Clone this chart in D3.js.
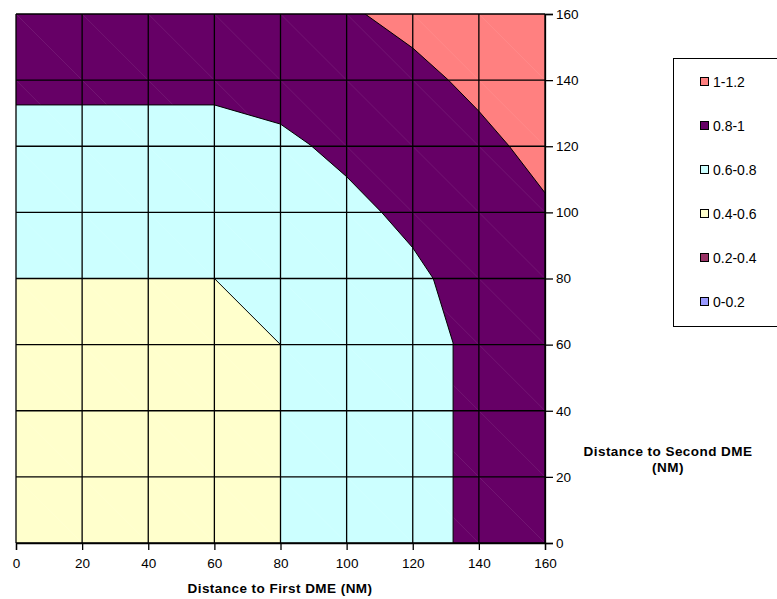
<!DOCTYPE html>
<html><head><meta charset="utf-8">
<script src="https://cdn.jsdelivr.net/npm/d3@7"></script>
<style>body{margin:0;background:#fff;overflow:hidden}</style></head>
<body><svg id="c" width="777" height="599"></svg>
<script>
// ---- data ----
const tickValues = [0, 20, 40, 60, 80, 100, 120, 140, 160];
const legendLabels = ["1-1.2", "0.8-1", "0.6-0.8", "0.4-0.6", "0.2-0.4", "0-0.2"];
const legendColors = ["#FF8080", "#660066", "#CCFFFF", "#FFFFCC", "#993366", "#9999FF"];
// contour line at 0.6 (yellow / cyan boundary): [first DME, second DME]
const contour06 = [[0, 80], [60, 80], [80, 60], [80, 0]];
// contour line at 0.8 (cyan / purple boundary)
const contour08 = [[0, 132.5], [60, 132.5], [80, 126.7], [89, 120.4], [100, 110.8], [110.6, 100], [120, 89.3], [126.2, 80], [132.2, 60.5], [132.2, 0]];
// contour line at 1.0 (purple / salmon boundary)
const contour10 = [[105.6, 160], [120, 149.7], [130.8, 140], [140, 130.6], [149.2, 120], [160, 105.9]];
const xTitle = "Distance to First DME (NM)";
const yTitle = ["Distance to Second DME", "(NM)"];

// ---- drawing ----
const svg = d3.select("#c");
const x = d3.scaleLinear().domain([0, 160]).range([16, 545]);
const y = d3.scaleLinear().domain([0, 160]).range([543, 14]);
const line = d3.line().x(d => x(d[0])).y(d => y(d[1]));
const font = "'Liberation Sans', Arial, sans-serif";

svg.append("defs").append("clipPath").attr("id", "clip")
  .append("rect").attr("x", x(0)).attr("y", y(160)).attr("width", x(160) - x(0)).attr("height", y(0) - y(160));

const plot = svg.append("g").attr("clip-path", "url(#clip)");
// base band (0.8-1)
plot.append("rect").attr("x", x(0)).attr("y", y(160)).attr("width", x(160) - x(0)).attr("height", y(0) - y(160))
  .attr("fill", legendColors[1]);
plot.append("path").attr("d", line(contour08.concat([[0, 0]])) + "Z").attr("fill", legendColors[2]);
plot.append("path").attr("d", line(contour06.concat([[0, 0]])) + "Z").attr("fill", legendColors[3]);
plot.append("path").attr("d", line(contour10.concat([[160, 160]])) + "Z").attr("fill", legendColors[0]);

// faint triangulation seams
d3.range(20, 320, 20).forEach(s => {
  plot.append("line")
    .attr("x1", x(Math.max(0, s - 160))).attr("y1", y(Math.min(160, s)))
    .attr("x2", x(Math.min(160, s))).attr("y2", y(Math.max(0, s - 160)))
    .attr("stroke", "#fff").attr("stroke-opacity", 0.12).attr("stroke-width", 0.7);
});

// contour lines
[contour06, contour08, contour10].forEach(c => {
  plot.append("path").attr("d", line(c)).attr("fill", "none").attr("stroke", "#000").attr("stroke-width", 1);
});

// grid
const grid = svg.append("g").attr("stroke", "#000").attr("stroke-width", 1.3);
tickValues.forEach(t => {
  grid.append("line").attr("x1", x(t)).attr("x2", x(t)).attr("y1", y(0)).attr("y2", y(160));
  grid.append("line").attr("y1", y(t)).attr("y2", y(t)).attr("x1", x(0)).attr("x2", x(160));
});

// axes
const xAxis = svg.append("g").attr("transform", `translate(0,${y(0)})`)
  .call(d3.axisBottom(x).tickValues(tickValues).tickSize(7).tickPadding(8).tickFormat(d3.format("d")));
const yAxis = svg.append("g").attr("transform", `translate(${x(160)},0)`)
  .call(d3.axisRight(y).tickValues(tickValues).tickSize(8).tickPadding(3).tickFormat(d3.format("d")));
[xAxis, yAxis].forEach(a => {
  a.select(".domain").attr("stroke", "#000").attr("stroke-width", 1.3);
  a.selectAll(".tick line").attr("stroke", "#000").attr("stroke-width", 1.3);
  a.selectAll(".tick text").attr("font-family", font).attr("font-size", "13.5px").attr("fill", "#000");
});

// axis titles
svg.append("text").attr("x", 280).attr("y", 593).attr("text-anchor", "middle")
  .attr("font-family", font).attr("font-size", "13.5px").attr("font-weight", "bold").attr("letter-spacing", "0.45px")
  .text(xTitle);
yTitle.forEach((t, i) => {
  svg.append("text").attr("x", 668).attr("y", 456 + i * 16).attr("text-anchor", "middle")
    .attr("font-family", font).attr("font-size", "13.5px").attr("font-weight", "bold").attr("letter-spacing", "0.45px")
    .text(t);
});

// legend
const lg = svg.append("g");
lg.append("rect").attr("x", 673.5).attr("y", 58.5).attr("width", 130).attr("height", 268)
  .attr("fill", "#fff").attr("stroke", "#000").attr("stroke-width", 1);
legendLabels.forEach((l, i) => {
  const cy = 82 + i * 44;
  lg.append("rect").attr("x", 700.5).attr("y", cy - 4.5).attr("width", 8).attr("height", 8)
    .attr("fill", legendColors[i]).attr("stroke", "#000").attr("stroke-width", 1);
  lg.append("text").attr("x", 713).attr("y", cy + 5).attr("font-family", font).attr("font-size", "14px")
    .attr("fill", "#000").text(l);
});
</script></body></html>
